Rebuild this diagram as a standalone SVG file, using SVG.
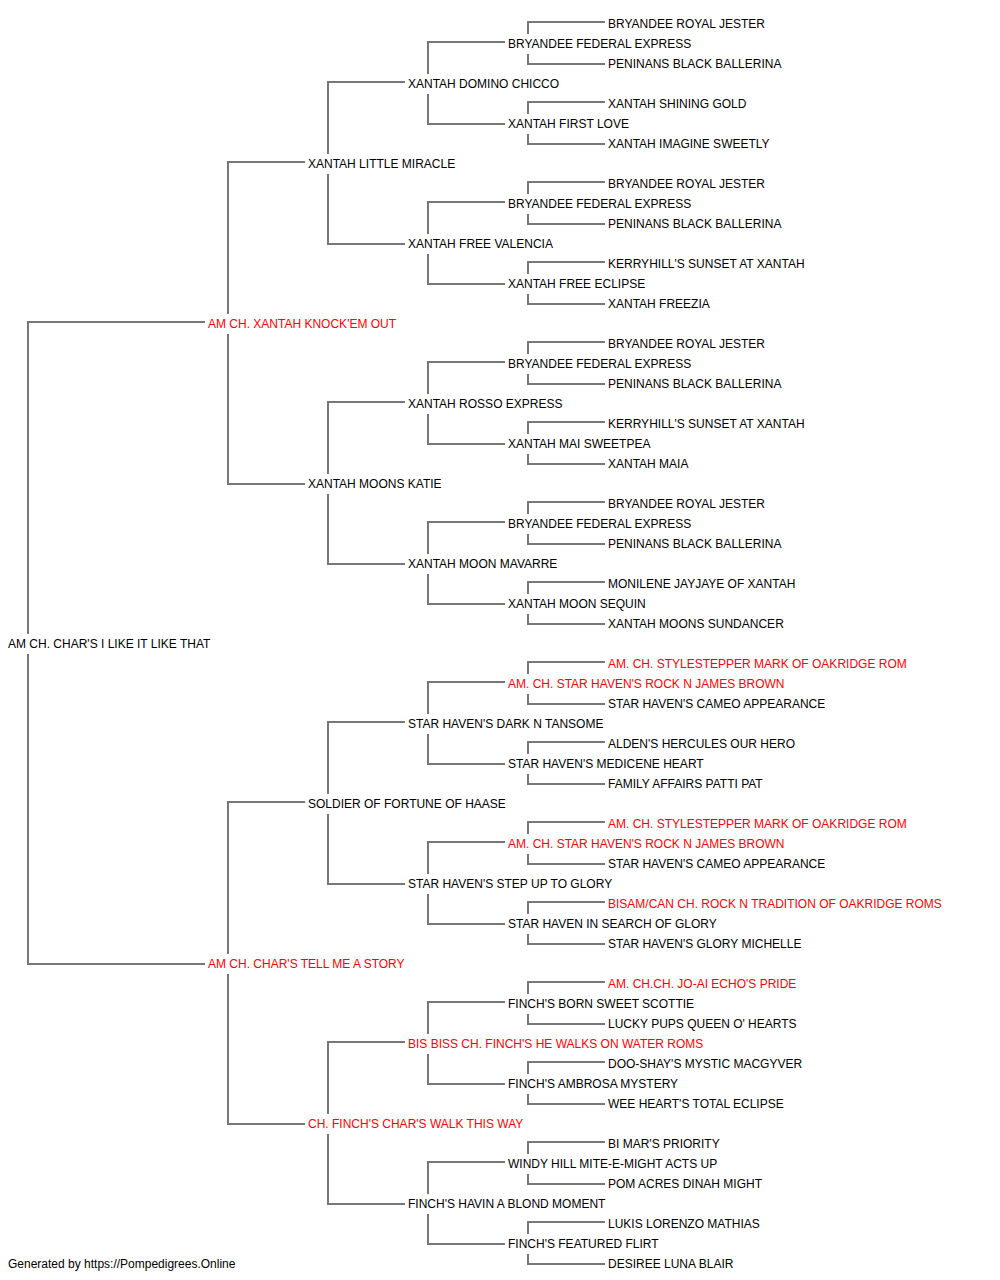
<svg xmlns="http://www.w3.org/2000/svg" width="1000" height="1280" viewBox="0 0 1000 1280">
<style>
text{font-family:"Liberation Sans",Arial,sans-serif;font-size:12px;fill:#000}
text.r{fill:#ff0000}
.c path{fill:none;stroke:#777;stroke-width:2}
</style>
<rect width="1000" height="1280" fill="#fff"/>
<g class="c" id="connectors">
<path d="M28,634V322H205M28,654V964H205"/>
<path d="M228,314V162H305M228,334V484H305"/>
<path d="M228,954V802H305M228,974V1124H305"/>
<path d="M328,154V82H405M328,174V244H405"/>
<path d="M328,474V402H405M328,494V564H405"/>
<path d="M328,794V722H405M328,814V884H405"/>
<path d="M328,1114V1042H405M328,1134V1204H405"/>
<path d="M428,74V42H505M428,94V124H505"/>
<path d="M428,234V202H505M428,254V284H505"/>
<path d="M428,394V362H505M428,414V444H505"/>
<path d="M428,554V522H505M428,574V604H505"/>
<path d="M428,714V682H505M428,734V764H505"/>
<path d="M428,874V842H505M428,894V924H505"/>
<path d="M428,1034V1002H505M428,1054V1084H505"/>
<path d="M428,1194V1162H505M428,1214V1244H505"/>
<path d="M528,34V22H605M528,54V64H605"/>
<path d="M528,114V102H605M528,134V144H605"/>
<path d="M528,194V182H605M528,214V224H605"/>
<path d="M528,274V262H605M528,294V304H605"/>
<path d="M528,354V342H605M528,374V384H605"/>
<path d="M528,434V422H605M528,454V464H605"/>
<path d="M528,514V502H605M528,534V544H605"/>
<path d="M528,594V582H605M528,614V624H605"/>
<path d="M528,674V662H605M528,694V704H605"/>
<path d="M528,754V742H605M528,774V784H605"/>
<path d="M528,834V822H605M528,854V864H605"/>
<path d="M528,914V902H605M528,934V944H605"/>
<path d="M528,994V982H605M528,1014V1024H605"/>
<path d="M528,1074V1062H605M528,1094V1104H605"/>
<path d="M528,1154V1142H605M528,1174V1184H605"/>
<path d="M528,1234V1222H605M528,1254V1264H605"/>
</g>
<g id="root"><text x="8" y="648">AM CH. CHAR'S I LIKE IT LIKE THAT</text></g>
<g id="g1-1"><text class="r" x="208" y="328">AM CH. XANTAH KNOCK'EM OUT</text></g>
<g id="g1-2"><text class="r" x="208" y="968">AM CH. CHAR'S TELL ME A STORY</text></g>
<g id="g2-1"><text x="308" y="168">XANTAH LITTLE MIRACLE</text></g>
<g id="g2-2"><text x="308" y="488">XANTAH MOONS KATIE</text></g>
<g id="g2-3"><text x="308" y="808">SOLDIER OF FORTUNE OF HAASE</text></g>
<g id="g2-4"><text class="r" x="308" y="1128">CH. FINCH'S CHAR'S WALK THIS WAY</text></g>
<g id="g3-1"><text x="408" y="88">XANTAH DOMINO CHICCO</text></g>
<g id="g3-2"><text x="408" y="248">XANTAH FREE VALENCIA</text></g>
<g id="g3-3"><text x="408" y="408">XANTAH ROSSO EXPRESS</text></g>
<g id="g3-4"><text x="408" y="568">XANTAH MOON MAVARRE</text></g>
<g id="g3-5"><text x="408" y="728">STAR HAVEN'S DARK N TANSOME</text></g>
<g id="g3-6"><text x="408" y="888">STAR HAVEN'S STEP UP TO GLORY</text></g>
<g id="g3-7"><text class="r" x="408" y="1048">BIS BISS CH. FINCH'S HE WALKS ON WATER ROMS</text></g>
<g id="g3-8"><text x="408" y="1208">FINCH'S HAVIN A BLOND MOMENT</text></g>
<g id="g4-1"><text x="508" y="48">BRYANDEE FEDERAL EXPRESS</text></g>
<g id="g4-2"><text x="508" y="128">XANTAH FIRST LOVE</text></g>
<g id="g4-3"><text x="508" y="208">BRYANDEE FEDERAL EXPRESS</text></g>
<g id="g4-4"><text x="508" y="288">XANTAH FREE ECLIPSE</text></g>
<g id="g4-5"><text x="508" y="368">BRYANDEE FEDERAL EXPRESS</text></g>
<g id="g4-6"><text x="508" y="448">XANTAH MAI SWEETPEA</text></g>
<g id="g4-7"><text x="508" y="528">BRYANDEE FEDERAL EXPRESS</text></g>
<g id="g4-8"><text x="508" y="608">XANTAH MOON SEQUIN</text></g>
<g id="g4-9"><text class="r" x="508" y="688">AM. CH. STAR HAVEN'S ROCK N JAMES BROWN</text></g>
<g id="g4-10"><text x="508" y="768">STAR HAVEN'S MEDICENE HEART</text></g>
<g id="g4-11"><text class="r" x="508" y="848">AM. CH. STAR HAVEN'S ROCK N JAMES BROWN</text></g>
<g id="g4-12"><text x="508" y="928">STAR HAVEN IN SEARCH OF GLORY</text></g>
<g id="g4-13"><text x="508" y="1008">FINCH'S BORN SWEET SCOTTIE</text></g>
<g id="g4-14"><text x="508" y="1088">FINCH'S AMBROSA MYSTERY</text></g>
<g id="g4-15"><text x="508" y="1168">WINDY HILL MITE-E-MIGHT ACTS UP</text></g>
<g id="g4-16"><text x="508" y="1248">FINCH'S FEATURED FLIRT</text></g>
<g id="g5-1"><text x="608" y="28">BRYANDEE ROYAL JESTER</text></g>
<g id="g5-2"><text x="608" y="68">PENINANS BLACK BALLERINA</text></g>
<g id="g5-3"><text x="608" y="108">XANTAH SHINING GOLD</text></g>
<g id="g5-4"><text x="608" y="148">XANTAH IMAGINE SWEETLY</text></g>
<g id="g5-5"><text x="608" y="188">BRYANDEE ROYAL JESTER</text></g>
<g id="g5-6"><text x="608" y="228">PENINANS BLACK BALLERINA</text></g>
<g id="g5-7"><text x="608" y="268">KERRYHILL'S SUNSET AT XANTAH</text></g>
<g id="g5-8"><text x="608" y="308">XANTAH FREEZIA</text></g>
<g id="g5-9"><text x="608" y="348">BRYANDEE ROYAL JESTER</text></g>
<g id="g5-10"><text x="608" y="388">PENINANS BLACK BALLERINA</text></g>
<g id="g5-11"><text x="608" y="428">KERRYHILL'S SUNSET AT XANTAH</text></g>
<g id="g5-12"><text x="608" y="468">XANTAH MAIA</text></g>
<g id="g5-13"><text x="608" y="508">BRYANDEE ROYAL JESTER</text></g>
<g id="g5-14"><text x="608" y="548">PENINANS BLACK BALLERINA</text></g>
<g id="g5-15"><text x="608" y="588">MONILENE JAYJAYE OF XANTAH</text></g>
<g id="g5-16"><text x="608" y="628">XANTAH MOONS SUNDANCER</text></g>
<g id="g5-17"><text class="r" x="608" y="668">AM. CH. STYLESTEPPER MARK OF OAKRIDGE ROM</text></g>
<g id="g5-18"><text x="608" y="708">STAR HAVEN'S CAMEO APPEARANCE</text></g>
<g id="g5-19"><text x="608" y="748">ALDEN'S HERCULES OUR HERO</text></g>
<g id="g5-20"><text x="608" y="788">FAMILY AFFAIRS PATTI PAT</text></g>
<g id="g5-21"><text class="r" x="608" y="828">AM. CH. STYLESTEPPER MARK OF OAKRIDGE ROM</text></g>
<g id="g5-22"><text x="608" y="868">STAR HAVEN'S CAMEO APPEARANCE</text></g>
<g id="g5-23"><text class="r" x="608" y="908">BISAM/CAN CH. ROCK N TRADITION OF OAKRIDGE ROMS</text></g>
<g id="g5-24"><text x="608" y="948">STAR HAVEN'S GLORY MICHELLE</text></g>
<g id="g5-25"><text class="r" x="608" y="988">AM. CH.CH. JO-AI ECHO'S PRIDE</text></g>
<g id="g5-26"><text x="608" y="1028">LUCKY PUPS QUEEN O' HEARTS</text></g>
<g id="g5-27"><text x="608" y="1068">DOO-SHAY'S MYSTIC MACGYVER</text></g>
<g id="g5-28"><text x="608" y="1108">WEE HEART'S TOTAL ECLIPSE</text></g>
<g id="g5-29"><text x="608" y="1148">BI MAR'S PRIORITY</text></g>
<g id="g5-30"><text x="608" y="1188">POM ACRES DINAH MIGHT</text></g>
<g id="g5-31"><text x="608" y="1228">LUKIS LORENZO MATHIAS</text></g>
<g id="g5-32"><text x="608" y="1268">DESIREE LUNA BLAIR</text></g>
<text x="8" y="1268">Generated by https://Pompedigrees.Online</text>
</svg>
